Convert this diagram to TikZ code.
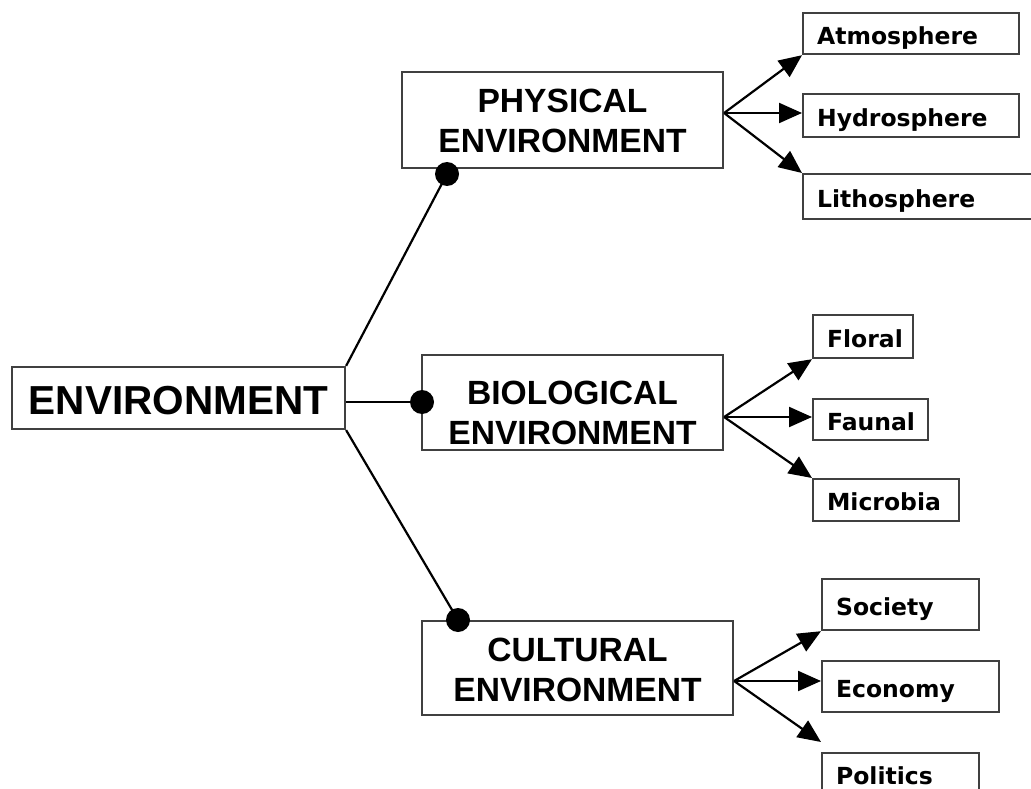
\documentclass[tikz,border=0pt]{standalone}
\usepackage{fontspec}
\newfontfamily\headfont{Liberation Sans}
\newfontfamily\leaffont{DejaVu Sans}
\usetikzlibrary{arrows.meta,calc}
\newcommand\lefttext[1]{\hbox to\hsize{#1\hss}}
\begin{document}
\begin{tikzpicture}[x=1pt,y=-1pt,
  box/.style={draw=black!75, line width=2.2pt, rectangle, inner sep=0pt, fill=white},
  rootbox/.style={box, minimum width=333pt, minimum height=62pt,
    text height=47pt, text depth=15pt,
    font=\headfont\bfseries\fontsize{40.5}{48}\selectfont},
  groupbox/.style={box, align=center,
    font=\headfont\bfseries\fontsize{33.6}{39.5}\selectfont},
  leafbox/.style={box, anchor=north west, inner xsep=14pt,
    text height=23pt, text depth=2pt,
    font=\leaffont\bfseries\fontsize{23.5}{28}\selectfont},
  link/.style={line width=2.2pt, black},
  branch/.style={line width=2.2pt, black, -{Triangle[length=23pt,width=20pt]}},
  joint/.style={circle, fill=black, inner sep=0pt, minimum size=24pt},
]
\useasboundingbox (0,0) rectangle (1031,789);
\fill[white] (0,0) rectangle (1031,789);
\clip (0,0) rectangle (1031,789);

% junction dots on the group boxes
\coordinate (physdot) at (447,174);
\coordinate (biodot) at (422,402);
\coordinate (culdot) at (458,620);

% root
\node[rootbox] (root) at (178.5,398) {ENVIRONMENT};

% trunk lines (drawn under the group boxes)
\draw[link] (root.north east) -- (physdot);
\draw[link] (root.east |- biodot) -- (biodot);
\draw[link] (root.south east) -- (culdot);

% group boxes (baseline of a two-line node is its last line)
\node[groupbox, minimum width=321pt, text height=80.5pt, text depth=15.5pt]
  (phys) at (562.5,120) {PHYSICAL\\ENVIRONMENT};
\node[groupbox, minimum width=301pt, text height=89pt, text depth=6pt]
  (bio) at (572.5,402.5) {BIOLOGICAL\\ENVIRONMENT};
\node[groupbox, minimum width=311pt, text height=80pt, text depth=14pt]
  (cul) at (577.5,668) {CULTURAL\\ENVIRONMENT};

% leaf boxes
\node[leafbox, minimum width=216pt, minimum height=41pt, text width=188pt] (atm) at (802,12) {\lefttext{Atmosphere}};
\node[leafbox, minimum width=216pt, minimum height=43pt, text width=188pt] (hyd) at (802,93) {\lefttext{Hydrosphere}};
\node[leafbox, minimum width=250pt, minimum height=45pt, text width=222pt] (lit) at (802,173) {\lefttext{Lithosphere}};

\node[leafbox, minimum width=100pt, minimum height=43pt, text width=72pt] (flo) at (812,314) {\lefttext{Floral}};
\node[leafbox, minimum width=115pt, minimum height=41pt, text width=87pt] (fau) at (812,398) {\lefttext{Faunal}};
\node[leafbox, minimum width=146pt, minimum height=42pt, text width=118pt] (mic) at (812,478) {\lefttext{Microbia}};

\node[leafbox, minimum width=157pt, minimum height=51pt, text width=129pt] (soc) at (821,578) {\lefttext{Society}};
\node[leafbox, minimum width=177pt, minimum height=51pt, text width=149pt] (eco) at (821,660) {\lefttext{Economy}};
\node[leafbox, minimum width=157pt, minimum height=41pt, text width=129pt] (pol) at (821,752) {\lefttext{Politics}};

% branch origins on the right edges of the group boxes
\coordinate (po) at ($(phys.east)+(0,-7)$);
\coordinate (bo) at ($(bio.east)+(0,14.5)$);
\coordinate (co) at ($(cul.east)+(0,13)$);

\draw[branch] (po) -- (atm.south west);
\draw[branch] (po) -- (po -| hyd.west);
\draw[branch] (po) -- (lit.north west);

\draw[branch] (bo) -- (flo.south west);
\draw[branch] (bo) -- (bo -| fau.west);
\draw[branch] (bo) -- (mic.north west);

\draw[branch] (co) -- (soc.south west);
\draw[branch] (co) -- (co -| eco.west);
\draw[branch] (co) -- ($(pol.north west)+(0,-10)$);

% dots on top
\node[joint] (pj) at (physdot) {};
\node[joint] (bj) at (biodot) {};
\node[joint] (cj) at (culdot) {};
\end{tikzpicture}
\end{document}
